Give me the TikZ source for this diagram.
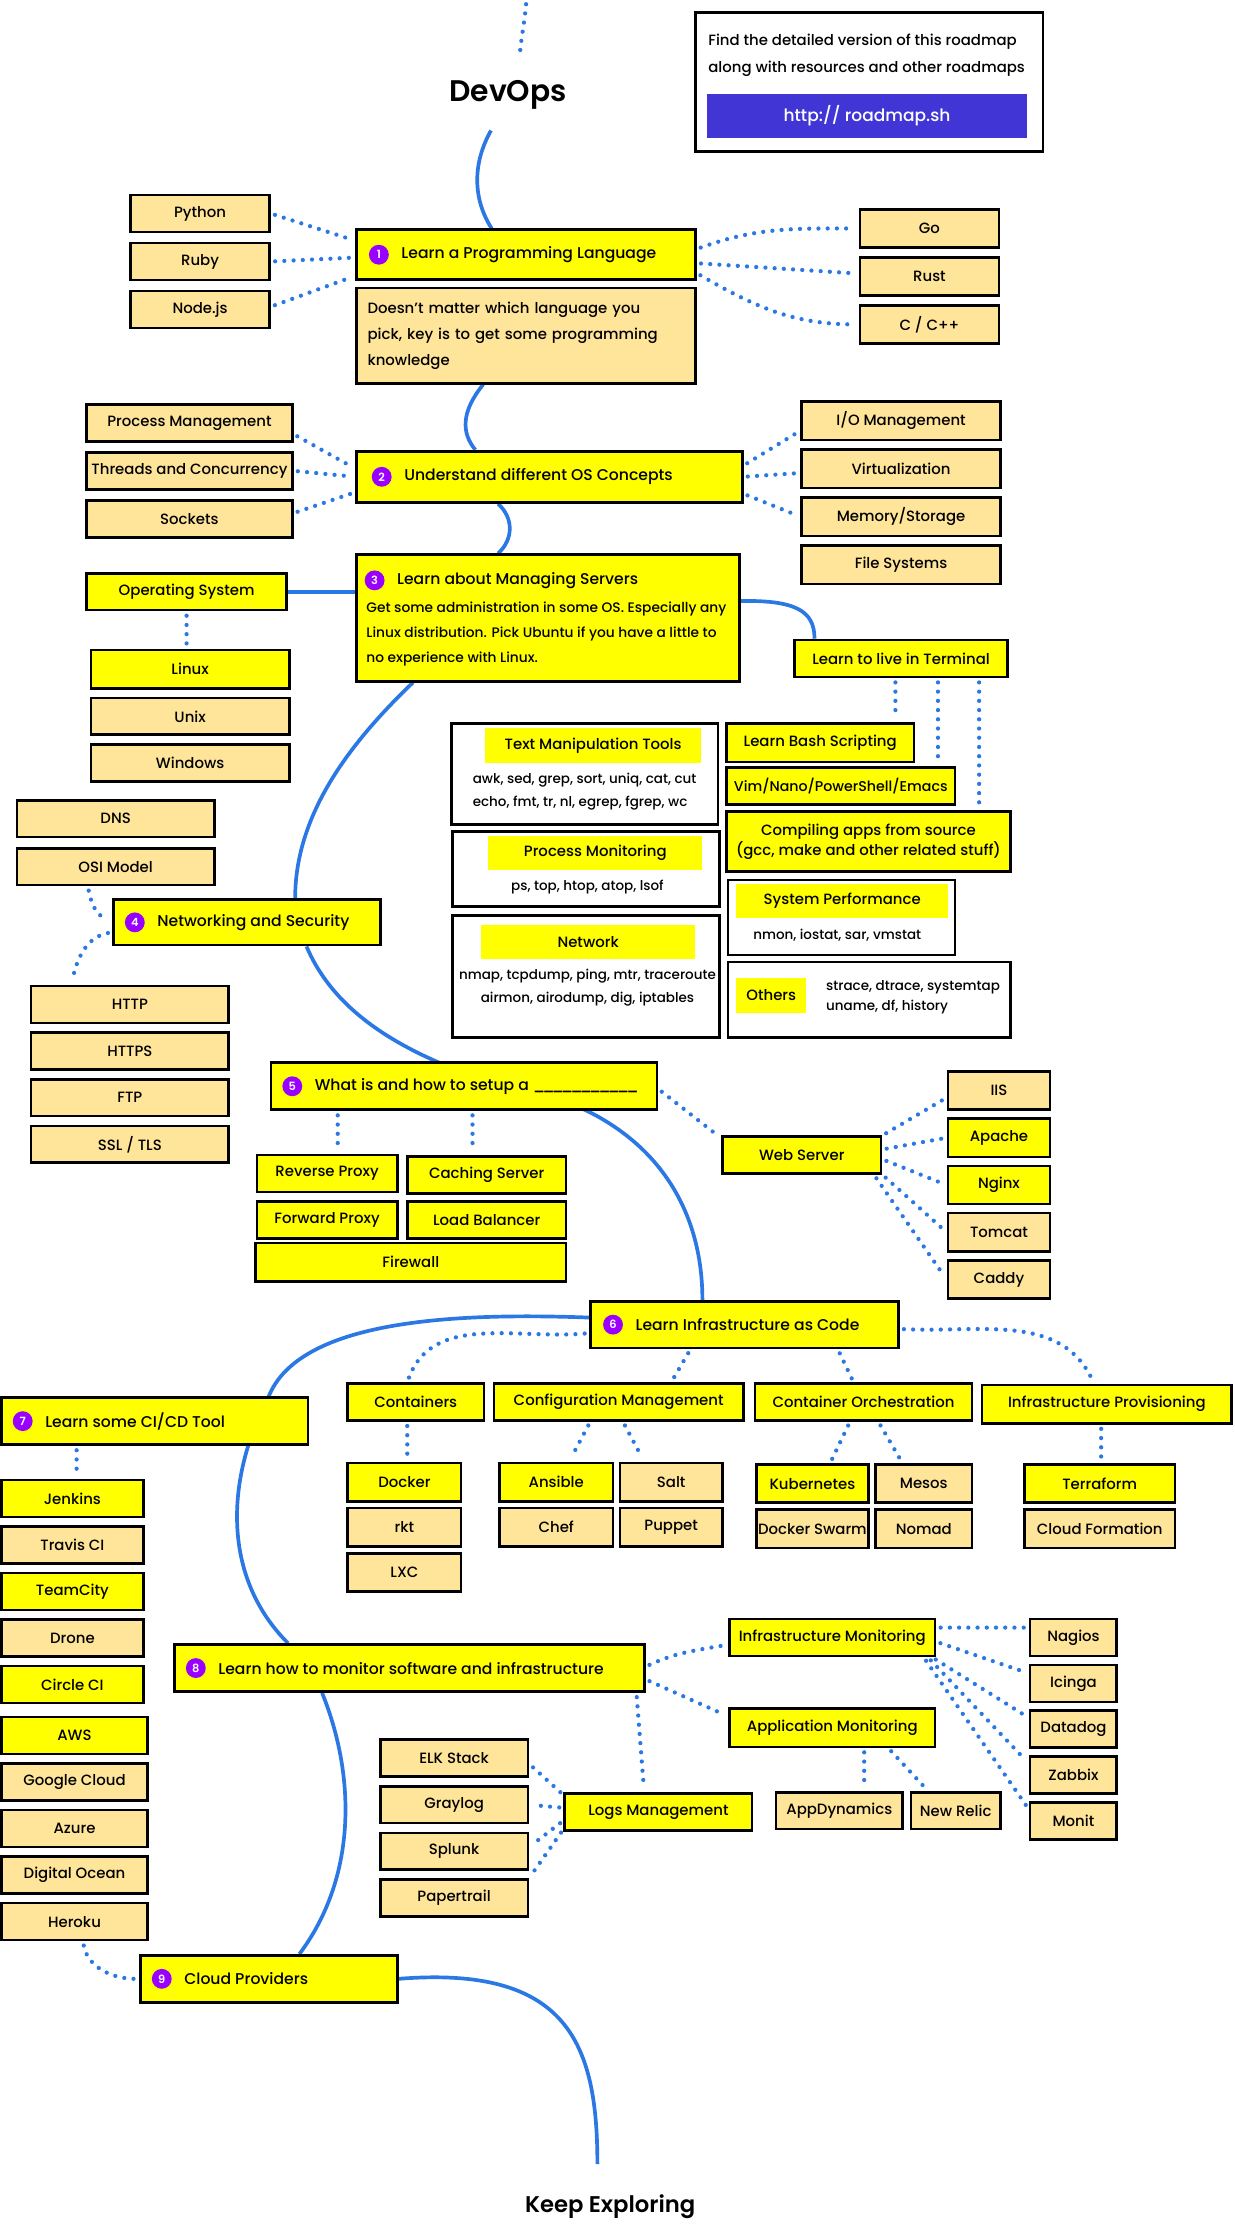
\documentclass[tikz,border=0pt]{standalone}
\usepackage{fontspec}
\setmainfont{Poppins}[UprightFont=* Medium, BoldFont=* SemiBold]
\usetikzlibrary{positioning,backgrounds}
\definecolor{roadyellow}{RGB}{255, 255, 0}
\definecolor{roadorange}{RGB}{255, 229, 153}
\definecolor{roadblue}{RGB}{43, 120, 228}
\definecolor{roadpurple}{RGB}{153, 0, 255}
\definecolor{urlblue}{RGB}{65, 54, 213}
\newcommand{\roadtitle}{\fontsize{11}{13}\selectfont}
\newcommand{\roadlabel}{\fontsize{10.5}{12}\selectfont}
\newcommand{\roadsmall}{\fontsize{9.5}{16.5}\selectfont}
\tikzset{
 topic/.style={
 rectangle,
 draw=black,
 line width=2pt,
 fill=roadyellow,
 minimum height=33pt
 },
 topictitle/.style={inner sep=0pt, font=\roadtitle},
 badge/.style={
 circle,
 fill=roadpurple,
 text=white,
 minimum size=14pt,
 inner sep=0pt,
 font=\fontsize{8}{8}\selectfont\bfseries
 },
 subitem/.style={
 rectangle,
 draw=black,
 line width=1.8pt,
 fill=roadyellow,
 minimum height=26pt,
 inner sep=1pt,
 font=\roadlabel
 },
 altitem/.style={subitem, fill=roadorange},
 descbox/.style={
 rectangle,
 draw=black,
 line width=2pt,
 fill=roadorange,
 align=left,
 inner xsep=8pt,
 font=\fontsize{10.5}{18.5}\selectfont
 },
 toolbox/.style={rectangle, draw=black, line width=1.8pt, fill=white},
 toollabel/.style={rectangle, fill=roadyellow, font=\roadlabel},
 tooltext/.style={inner sep=0pt, align=left, font=\roadsmall},
 roadline/.style={draw=roadblue, line width=2.6pt},
 dotlink/.style={draw=roadblue, line width=3pt, line cap=round, dash pattern=on 0pt off 6.5pt, shorten <=3pt, shorten >=3pt}
}

\begin{document}
\begin{tikzpicture}[x=1pt, y=1pt, node distance=5pt]
 \useasboundingbox (0,0) rectangle (870,-1568);

 \coordinate (topend) at (371,0);
 \coordinate (devopsin) at (366,-42);
 \node[font=\fontsize{21}{24}\selectfont\bfseries] (devops) at (358,-67) {DevOps};
 \coordinate (devopsout) at (346,-92);

 \node[toolbox, line width=2pt, minimum width=245pt, minimum height=98pt] (info) at (612.5,-58) {};
 \node[tooltext, anchor=west, font=\fontsize{10.5}{19.5}\selectfont] (infotext) at (499,-39) {Find the detailed version of this roadmap\\along with resources and other roadmaps};
 \node[rectangle, fill=urlblue, text=white, minimum width=226pt, minimum height=31pt, font=\fontsize{12}{14}\selectfont] (url) at (611,-81.5) {http:// roadmap.sh};

 % 1
 \node[topic, minimum width=239pt, minimum height=35pt] (prog) at (370.5,-179.5) {};
 \node[badge] (b1) at ([xshift=17pt]prog.west) {1};
 \node[topictitle, right=8.5pt of b1] (progtitle) {Learn a Programming Language};
 \node[descbox, text width=223pt, minimum height=67pt] (progdesc) at (370.5,-236.5) {Doesn't matter which language you\\pick, key is to get some programming\\knowledge};
 \node[altitem, minimum width=98pt] (python) at (141,-150.5) {Python};
 \node[altitem, minimum width=98pt, below=6pt of python] (ruby) {Ruby};
 \node[altitem, minimum width=98pt, below=6pt of ruby] (nodejs) {Node.js};
 \node[altitem, minimum width=98pt, minimum height=27pt] (golang) at (655,-161) {Go};
 \node[altitem, minimum width=98pt, minimum height=27pt, below=5pt of golang] (rust) {Rust};
 \node[altitem, minimum width=98pt, minimum height=27pt, below=5pt of rust] (cpp) {C / C++};

 % 2
 \node[topic, minimum width=272pt, minimum height=36pt] (osc) at (387,-336) {};
 \node[badge] (b2) at ([xshift=19pt]osc.west) {2};
 \node[topictitle, right=8.5pt of b2] (osctitle) {Understand different OS Concepts};
 \node[altitem, minimum width=145pt] (procmgmt) at (133.5,-298) {Process Management};
 \node[altitem, minimum width=145pt, below=6pt of procmgmt] (threads) {Threads and Concurrency};
 \node[altitem, minimum width=145pt, below=6pt of threads] (sockets) {Sockets};
 \node[altitem, minimum width=140pt, minimum height=27pt] (iomgmt) at (635,-296.5) {I/O Management};
 \node[altitem, minimum width=140pt, minimum height=27pt, below=5pt of iomgmt] (virt) {Virtualization};
 \node[altitem, minimum width=140pt, minimum height=27pt, below=5pt of virt] (memory) {Memory/Storage};
 \node[altitem, minimum width=140pt, minimum height=27pt, below=5pt of memory] (filesys) {File Systems};

 % 3
 \node[topic, minimum width=270pt, minimum height=89pt] (servers) at (386,-435.5) {};
 \node[badge] (b3) at ([xshift=14pt, yshift=26.5pt]servers.west) {3};
 \node[topictitle, right=8.5pt of b3] (serverstitle) {Learn about Managing Servers};
 \node[tooltext, anchor=west, font=\fontsize{9.7}{17.5}\selectfont] (serversnote) at ([xshift=8pt, yshift=-11.5pt]servers.west) {Get some administration in some OS. Especially any\\Linux distribution. Pick Ubuntu if you have a little to\\no experience with Linux.};
 \node[subitem, minimum width=141pt] (ossys) at (131.5,-417) {Operating System};
 \node[subitem, minimum width=140pt, minimum height=27pt] (linux) at (134,-471.5) {Linux};
 \node[altitem, minimum width=140pt, below=5pt of linux] (unix) {Unix};
 \node[altitem, minimum width=140pt, below=5pt of unix] (windows) {Windows};
 \node[subitem, minimum width=150pt] (terminal) at (635,-464) {Learn to live in Terminal};

 \node[toolbox, minimum width=188pt, minimum height=71pt] (textmanip) at (412,-545.5) {};
 \node[toollabel, minimum width=152pt, minimum height=25pt] (textmaniplabel) at (418,-525.5) {Text Manipulation Tools};
 \node[tooltext, anchor=west] (textmaniptools) at (333,-558) {awk, sed, grep, sort, uniq, cat, cut\\echo, fmt, tr, nl, egrep, fgrep, wc};
 \node[toolbox, minimum width=188pt, minimum height=53pt] (procmon) at (413,-612.5) {};
 \node[toollabel, minimum width=151pt, minimum height=24pt] (procmonlabel) at (419.5,-601) {Process Monitoring};
 \node[tooltext] (procmontools) at (414,-625) {ps, top, htop, atop, lsof};
 \node[toolbox, minimum width=188pt, minimum height=86pt] (network) at (413,-688) {};
 \node[toollabel, minimum width=151pt, minimum height=24pt] (networklabel) at (414.5,-664) {Network};
 \node[tooltext, align=center, font=\fontsize{9.5}{16}\selectfont] (networktools) at (414,-696) {nmap, tcpdump, ping, mtr, traceroute\\airmon, airodump, dig, iptables};

 \node[subitem, minimum width=132pt, minimum height=27pt] (bash) at (578,-523.5) {Learn Bash Scripting};
 \node[subitem, minimum width=161pt, font=\fontsize{10}{12}\selectfont] (editors) at (592.5,-554) {Vim/Nano/PowerShell/Emacs};
 \node[subitem, minimum width=200pt, minimum height=42pt, align=center, font=\fontsize{10.5}{14}\selectfont] (compiling) at (612,-593) {Compiling apps from source\\(gcc, make and other related stuff)};
 \node[toolbox, minimum width=160pt, minimum height=53pt] (sysperf) at (593,-646.5) {};
 \node[toollabel, minimum width=149pt, minimum height=24pt] (sysperflabel) at (593.5,-635) {System Performance};
 \node[tooltext] (sysperftools) at (590,-659) {nmon, iostat, sar, vmstat};
 \node[toolbox, minimum width=199pt, minimum height=53pt] (others) at (612.5,-704.5) {};
 \node[toollabel, minimum width=49pt, minimum height=25pt] (otherslabel) at (543.5,-701.5) {Others};
 \node[tooltext, anchor=west, font=\fontsize{9.5}{14}\selectfont] (otherstools) at (582,-703) {strace, dtrace, systemtap\\uname, df, history};

 % 4
 \node[topic, minimum width=188pt, minimum height=32pt] (netsec) at (174,-650) {};
 \node[badge] (b4) at ([xshift=16pt]netsec.west) {4};
 \node[topictitle, right=8.5pt of b4] (netsectitle) {Networking and Security};
 \node[altitem, minimum width=139pt] (dns) at (81.5,-577) {DNS};
 \node[altitem, minimum width=139pt, below=6pt of dns] (osi) {OSI Model};
 \node[altitem, minimum width=139pt] (http) at (91.5,-708) {HTTP};
 \node[altitem, minimum width=139pt, below=5pt of http] (https) {HTTPS};
 \node[altitem, minimum width=139pt, below=5pt of https] (ftp) {FTP};
 \node[altitem, minimum width=139pt, below=5pt of ftp] (ssl) {SSL / TLS};

 % 5
 \node[topic, minimum width=272pt] (setup) at (327,-765.5) {};
 \node[badge] (b5) at ([xshift=16pt]setup.west) {5};
 \node[topictitle, right=8.5pt of b5] (setuptitle) {What is and how to setup a \foreach \k in {1,...,11}{\_\kern-2.2pt}};
 \node[subitem, minimum width=99pt] (revproxy) at (230.5,-827) {Reverse Proxy};
 \node[subitem, minimum width=112pt] (caching) at (343,-828) {Caching Server};
 \node[subitem, minimum width=99pt, below=5pt of revproxy] (fwdproxy) {Forward Proxy};
 \node[subitem, minimum width=112pt, below=4pt of caching] (loadbal) {Load Balancer};
 \node[subitem, minimum width=219pt, minimum height=27pt] (firewall) at (289.5,-889.5) {Firewall};
 \node[subitem, minimum width=112pt] (webserver) at (565,-814) {Web Server};
 \node[altitem, minimum width=72pt, minimum height=27pt] (iis) at (704,-768.5) {IIS};
 \node[subitem, minimum width=72pt, minimum height=27pt, below=4.5pt of iis] (apache) {Apache};
 \node[subitem, minimum width=72pt, minimum height=27pt, below=4.5pt of apache] (nginx) {Nginx};
 \node[altitem, minimum width=72pt, minimum height=27pt, below=4.5pt of nginx] (tomcat) {Tomcat};
 \node[altitem, minimum width=72pt, minimum height=27pt, below=4.5pt of tomcat] (caddy) {Caddy};

 % 6
 \node[topic, minimum width=217pt] (iac) at (524.5,-933.5) {};
 \node[badge] (b6) at ([xshift=17pt]iac.west) {6};
 \node[topictitle, right=8.5pt of b6] (iactitle) {Learn Infrastructure as Code};
 \node[subitem, minimum width=96pt] (containers) at (293,-988) {Containers};
 \node[subitem, minimum width=176pt] (configmgmt) at (436,-988) {Configuration Management};
 \node[subitem, minimum width=153pt] (orchestration) at (608.5,-988) {Container Orchestration};
 \node[subitem, minimum width=176pt, minimum height=27pt] (provisioning) at (780,-989.5) {Infrastructure Provisioning};
 \node[subitem, minimum width=80pt, minimum height=27pt] (docker) at (285,-1044.5) {Docker};
 \node[altitem, minimum width=80pt, minimum height=27pt, below=3pt of docker] (rkt) {rkt};
 \node[altitem, minimum width=80pt, minimum height=27pt, below=3pt of rkt] (lxc) {LXC};
 \node[subitem, minimum width=80pt, minimum height=27pt] (ansible) at (392,-1044.5) {Ansible};
 \node[altitem, minimum width=72pt, minimum height=27pt] (salt) at (473,-1044.5) {Salt};
 \node[altitem, minimum width=80pt, minimum height=27pt, below=3pt of ansible] (chef) {Chef};
 \node[altitem, minimum width=72pt, minimum height=27pt, below=3pt of salt] (puppet) {Puppet};
 \node[subitem, minimum width=79pt, minimum height=27pt] (kubernetes) at (572.5,-1045.5) {Kubernetes};
 \node[altitem, minimum width=68pt, minimum height=27pt] (mesos) at (651,-1045.5) {Mesos};
 \node[altitem, minimum width=79pt, minimum height=27pt, below=3pt of kubernetes] (swarm) {Docker Swarm};
 \node[altitem, minimum width=68pt, minimum height=27pt, below=3pt of mesos] (nomad) {Nomad};
 \node[subitem, minimum width=106pt, minimum height=27pt] (terraform) at (775,-1045.5) {Terraform};
 \node[altitem, minimum width=106pt, minimum height=27pt, below=3pt of terraform] (cloudformation) {Cloud Formation};

 % 7
 \node[topic, minimum width=216pt] (cicd) at (109,-1001.5) {};
 \node[badge] (b7) at ([xshift=16pt]cicd.west) {7};
 \node[topictitle, right=8.5pt of b7] (cicdtitle) {Learn some CI/CD Tool};
 \node[subitem, minimum width=100pt] (jenkins) at (51,-1056) {Jenkins};
 \node[altitem, minimum width=100pt, below=5pt of jenkins] (travis) {Travis CI};
 \node[subitem, minimum width=100pt, below=5pt of travis] (teamcity) {TeamCity};
 \node[altitem, minimum width=100pt, below=5pt of teamcity] (drone) {Drone};
 \node[subitem, minimum width=100pt, below=5pt of drone] (circleci) {Circle CI};
 \node[subitem, minimum width=103pt] (aws) at (52.5,-1223) {AWS};
 \node[altitem, minimum width=103pt, below=5pt of aws] (gcloud) {Google Cloud};
 \node[altitem, minimum width=103pt, below=5pt of gcloud] (azure) {Azure};
 \node[altitem, minimum width=103pt, below=5pt of azure] (digitalocean) {Digital Ocean};
 \node[altitem, minimum width=103pt, below=5pt of digitalocean] (heroku) {Heroku};

 % 8
 \node[topic, minimum width=331pt] (monitor) at (288.5,-1175.5) {};
 \node[badge] (b8) at ([xshift=16pt]monitor.west) {8};
 \node[topictitle, right=8.5pt of b8] (monitortitle) {Learn how to monitor software and infrastructure};
 \node[subitem, minimum width=145pt] (inframon) at (586.5,-1154) {Infrastructure Monitoring};
 \node[subitem, minimum width=145pt, minimum height=27pt] (appmon) at (586.5,-1217.5) {Application Monitoring};
 \node[subitem, minimum width=132pt] (logsmgmt) at (464,-1277) {Logs Management};
 \node[altitem, minimum width=104pt] (elk) at (320,-1239) {ELK Stack};
 \node[altitem, minimum width=104pt, below=5pt of elk] (graylog) {Graylog};
 \node[altitem, minimum width=104pt, below=5pt of graylog] (splunk) {Splunk};
 \node[altitem, minimum width=104pt, below=5pt of splunk] (papertrail) {Papertrail};
 \node[altitem, minimum width=89pt] (appdynamics) at (591.5,-1276) {AppDynamics};
 \node[altitem, minimum width=63pt] (newrelic) at (673.5,-1276) {New Relic};
 \node[altitem, minimum width=61pt] (nagios) at (756.5,-1154) {Nagios};
 \node[altitem, minimum width=61pt, below=4.5pt of nagios] (icinga) {Icinga};
 \node[altitem, minimum width=61pt, below=4.5pt of icinga] (datadog) {Datadog};
 \node[altitem, minimum width=61pt, below=4.5pt of datadog] (zabbix) {Zabbix};
 \node[altitem, minimum width=61pt, below=4.5pt of zabbix] (monit) {Monit};

 % 9
 \node[topic, minimum width=181pt] (cloud) at (189.5,-1394.5) {};
 \node[badge] (b9) at ([xshift=16pt]cloud.west) {9};
 \node[topictitle, right=8.5pt of b9] (cloudtitle) {Cloud Providers};
 \coordinate (keepin) at (421,-1525);
 \node[font=\fontsize{16}{18}\selectfont\bfseries] (keep) at (430,-1555) {Keep Exploring};

 \coordinate (bashdrop) at ([xshift=-4pt]terminal.south);
 \coordinate (editorsdrop) at ([xshift=26pt]terminal.south);
 \coordinate (compiledrop) at ([xshift=55pt]terminal.south);
 \coordinate (proxydrop) at ([xshift=-89pt]setup.south);
 \coordinate (cachedrop) at ([xshift=6pt]setup.south);
 \coordinate (dockerdrop) at ([xshift=-6pt]containers.south);
 \coordinate (terradrop) at ([xshift=-4pt]provisioning.south);
 \coordinate (jenkinsdrop) at ([xshift=-55pt]cicd.south);
 \coordinate (appddrop) at ([xshift=22.5pt]appmon.south);

 \begin{scope}[on background layer]
 \draw[dotlink] (topend) to[out=-95,in=85] (devopsin);
 \draw[roadline] (devopsout) .. controls (333,-115) and (333,-140) .. ([xshift=-24pt]prog.north);
 \draw[roadline] ([xshift=-30pt]progdesc.south) .. controls (325,-290) and (325,-305) .. ([xshift=-52pt]osc.north);
 \draw[roadline] ([xshift=-36pt]osc.south) .. controls (362,-365) and (362,-380) .. ([xshift=-35pt]servers.north);
 \draw[roadline] (ossys.east) -- (ossys.east -| servers.west);
 \draw[roadline] ([yshift=12pt]servers.east) .. controls (560,-423) and (574,-430) .. ([xshift=-61pt]terminal.north);
 \draw[roadline] ([xshift=-95pt]servers.south) .. controls (245,-525) and (208,-575) .. ([xshift=34pt]netsec.north);
 \draw[roadline] ([xshift=42pt]netsec.south) .. controls (245,-735) and (330,-760) .. (412,-782) .. controls (470,-810) and (495,-860) .. ([xshift=-29.5pt]iac.north);
 \draw[roadline] ([yshift=5pt]iac.west) .. controls (320,-925) and (210,-930) .. (189,-985) .. controls (160,-1040) and (155,-1110) .. ([xshift=-85.5pt]monitor.north);
 \draw[roadline] ([xshift=-61.5pt]monitor.south) .. controls (252,-1255) and (250,-1325) .. ([xshift=21.5pt]cloud.north);
 \draw[roadline] (cloud.east) .. controls (400,-1385) and (421,-1440) .. (keepin);

 \draw[dotlink] (python.east) -- ([yshift=10pt]prog.west);
 \draw[dotlink] (ruby.east) -- ([yshift=-2pt]prog.west);
 \draw[dotlink] ([yshift=2pt]nodejs.east) -- ([yshift=-15pt]prog.west);
 \draw[dotlink] ([yshift=4pt]prog.east) to[out=20,in=180] (golang.west);
 \draw[dotlink] ([yshift=-6pt]prog.east) -- ([yshift=2pt]rust.west);
 \draw[dotlink] ([yshift=-13pt]prog.east) to[out=-30,in=180] (cpp.west);

 \draw[dotlink] ([yshift=-8pt]procmgmt.east) -- ([yshift=6pt]osc.west);
 \draw[dotlink] (threads.east) -- (osc.west);
 \draw[dotlink] ([yshift=4pt]sockets.east) -- ([yshift=-11pt]osc.west);
 \draw[dotlink] ([yshift=8pt]osc.east) -- ([yshift=-7pt]iomgmt.west);
 \draw[dotlink] (osc.east) -- ([yshift=-3pt]virt.west);
 \draw[dotlink] ([yshift=-12pt]osc.east) -- (memory.west);

 \draw[dotlink] (ossys.south) -- (ossys.south |- linux.north);
 \draw[dotlink] (bashdrop) -- (bashdrop |- bash.north);
 \draw[dotlink] (editorsdrop) -- (editorsdrop |- editors.north);
 \draw[dotlink] (compiledrop) -- (compiledrop |- compiling.north);

 \draw[dotlink] ([xshift=-19.5pt]osi.south) to[out=-80,in=180] ([yshift=3pt]netsec.west);
 \draw[dotlink] ([yshift=-7pt]netsec.west) to[out=190,in=80] ([xshift=-41pt]http.north);

 \draw[dotlink] (proxydrop) -- (proxydrop |- revproxy.north);
 \draw[dotlink] (cachedrop) -- (cachedrop |- caching.north);
 \draw[dotlink] ([yshift=-2pt]setup.east) -- ([yshift=12pt]webserver.west);
 \draw[dotlink] (webserver.north east) -- ([yshift=-5pt]iis.west);
 \draw[dotlink] ([yshift=4pt]webserver.east) -- (apache.west);
 \draw[dotlink] ([yshift=-3pt]webserver.east) -- (nginx.west);
 \draw[dotlink] (webserver.south east) -- (tomcat.west);
 \draw[dotlink] ([xshift=-6pt]webserver.south east) -- (caddy.west);

 \draw[dotlink] ([yshift=-6pt]iac.west) to[out=185,in=70] ([xshift=-6pt]containers.north);
 \draw[dotlink] ([xshift=-38pt]iac.south) -- ([xshift=37pt]configmgmt.north);
 \draw[dotlink] ([xshift=66pt]iac.south) -- ([xshift=-7pt]orchestration.north);
 \draw[dotlink] ([yshift=-3pt]iac.east) to[out=-3,in=115] ([xshift=-9pt]provisioning.north);
 \draw[dotlink] (dockerdrop) -- (dockerdrop |- docker.north);
 \draw[dotlink] ([xshift=-20pt]configmgmt.south) -- ([xshift=9pt]ansible.north);
 \draw[dotlink] ([xshift=3pt]configmgmt.south) -- ([xshift=-19pt]salt.north);
 \draw[dotlink] ([xshift=-9.5pt]orchestration.south) -- ([xshift=12.5pt]kubernetes.north);
 \draw[dotlink] ([xshift=10.5pt]orchestration.south) -- ([xshift=-15pt]mesos.north);
 \draw[dotlink] (terradrop) -- (terradrop |- terraform.north);

 \draw[dotlink] (jenkinsdrop) -- (jenkinsdrop |- jenkins.north);

 \draw[dotlink] ([yshift=1pt]monitor.east) to[out=25,in=190] ([yshift=-5pt]inframon.west);
 \draw[dotlink] ([yshift=-8pt]monitor.east) -- ([yshift=8pt]appmon.west);
 \draw[dotlink] ([xshift=160pt]monitor.south) -- ([xshift=-10pt]logsmgmt.north);
 \draw[dotlink] ([yshift=12pt]logsmgmt.west) -- ([yshift=-4pt]elk.east);
 \draw[dotlink] ([yshift=3pt]logsmgmt.west) -- (graylog.east);
 \draw[dotlink] ([yshift=-6pt]logsmgmt.west) -- ([yshift=3pt]splunk.east);
 \draw[dotlink] ([yshift=-12pt]logsmgmt.west) -- (papertrail.north east);
 \draw[dotlink] (appddrop) -- (appddrop |- appdynamics.north);
 \draw[dotlink] ([xshift=39.5pt]appmon.south) -- ([xshift=-19.5pt]newrelic.north);
 \draw[dotlink] ([yshift=7pt]inframon.east) -- ([yshift=7pt]nagios.west);
 \draw[dotlink] ([yshift=-3pt]inframon.east) -- ([yshift=7pt]icinga.west);
 \draw[dotlink] ([xshift=-3pt]inframon.south east) -- ([yshift=8pt]datadog.west);
 \draw[dotlink] ([xshift=-6pt]inframon.south east) -- ([yshift=8pt]zabbix.west);
 \draw[dotlink] ([xshift=-9pt]inframon.south east) -- ([yshift=8pt]monit.west);

 \draw[dotlink] ([xshift=6pt]heroku.south) to[out=-80,in=180] (cloud.west);
 \end{scope}
\end{tikzpicture}
\end{document}
